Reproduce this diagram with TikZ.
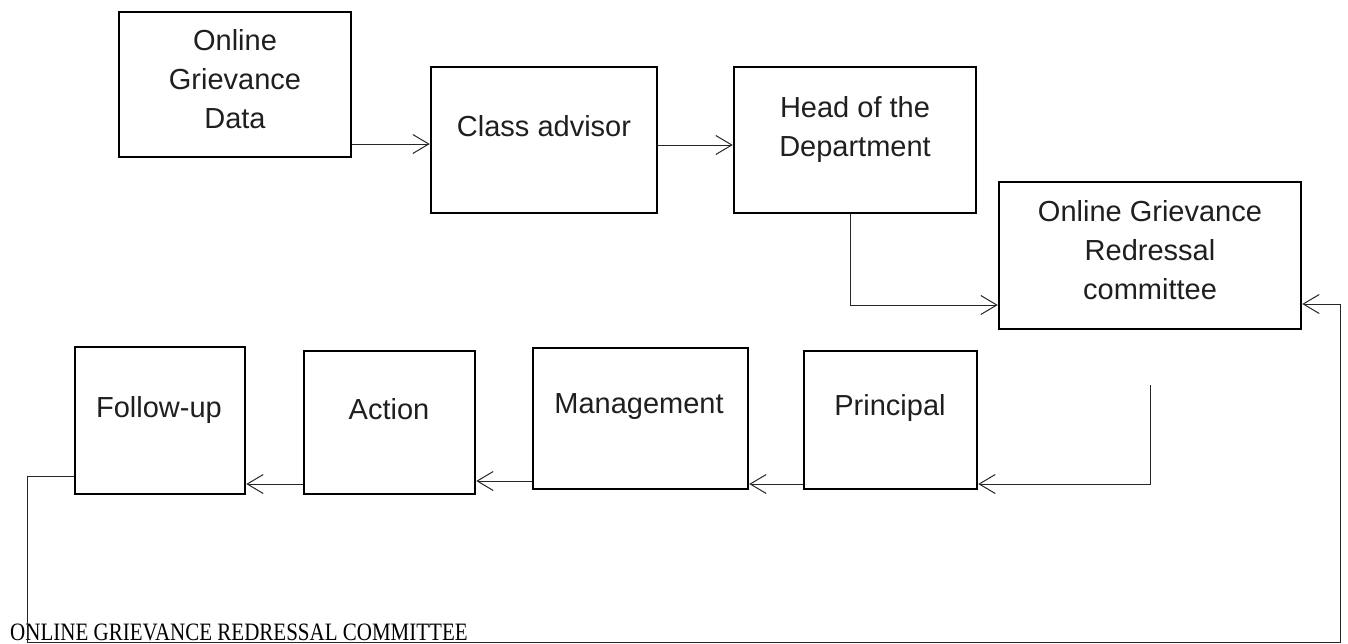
\documentclass[tikz,border=0pt]{standalone}
\usepackage{fontspec}
\setmainfont{Liberation Sans}
\newfontfamily\capfont{Liberation Serif}
\usetikzlibrary{arrows.meta}
\begin{document}
\begin{tikzpicture}[x=1pt,y=-1pt,
  box/.style={draw=black,line width=2.5pt,inner sep=0pt},
  lbl/.style={inner sep=0pt,align=center,font={\fontsize{29}{39}\selectfont},text=black!88},
  arr/.style={draw=black!85,line width=1pt,-{Straight Barb[length=16pt,width=19pt,line width=1pt]}},
  conn/.style={draw=black!85,line width=1pt}]
\useasboundingbox (0,0) rectangle (1348,643);
% boxes
\node[box,minimum width=232pt,minimum height=145pt] (data) at (235,84.5) {};
\node[box,minimum width=226pt,minimum height=146pt] (class) at (544,140) {};
\node[box,minimum width=242pt,minimum height=146pt] (head) at (855,140) {};
\node[box,minimum width=302pt,minimum height=147pt] (comm) at (1150,255.5) {};
\node[box,minimum width=215pt,minimum height=141pt] (mgmt) at (640.5,418.5) {};
\node[box,minimum width=173pt,minimum height=138pt] (princ) at (890.5,420) {};
\node[box,minimum width=171pt,minimum height=143pt] (action) at (389.5,422.5) {};
\node[box,minimum width=170pt,minimum height=147pt] (follow) at (160,420.5) {};
% texts
\node[lbl] (tdata) at (235,79.5) {Online\\Grievance\\Data};
\node[lbl,anchor=base] (tclass) at (544,136) {Class advisor};
\node[lbl] (thead) at (855,129) {Head of the\\Department};
\node[lbl] (tcomm) at (1150,250) {Online Grievance\\Redressal\\committee};
\node[lbl,anchor=base] (tmgmt) at (639,413) {Management};
\node[lbl,anchor=base] (tprinc) at (890,415) {Principal};
\node[lbl,anchor=base] (tfollow) at (159,417) {Follow-up};
\node[lbl,anchor=base] (taction) at (389,419) {Action};
\node[inner sep=0pt,anchor=base west,font={\capfont\fontsize{25}{30}\selectfont}] (cap) at (10,640) {\scalebox{0.84}[1]{ONLINE GRIEVANCE REDRESSAL COMMITTEE}};
% helper coordinates
\coordinate (ya) at (0,144);
\coordinate (yb) at (0,145);
\coordinate (yc) at (0,305);
\coordinate (hx) at (850,0);
\coordinate (s1) at (1150,385);
\coordinate (yd) at (0,484);
\coordinate (ye) at (0,481);
\coordinate (yf) at (0,476);
\coordinate (yg) at (0,304);
\coordinate (c1) at (27,642);
\coordinate (c2) at (1340,642);
% connectors
\draw[arr] (data.east |- ya) -- (class.west |- ya);
\draw[arr] (class.east |- yb) -- (head.west |- yb);
\draw[arr] (head.south -| hx) |- (comm.west |- yc);
\draw[arr] (s1) |- (princ.east |- yd);
\draw[arr] (princ.west |- yd) -- (mgmt.east |- yd);
\draw[arr] (mgmt.west |- ye) -- (action.east |- ye);
\draw[arr] (action.west |- yd) -- (follow.east |- yd);
\draw[arr] (follow.west |- yf) -| (c1) -- (c2) |- (comm.east |- yg);
\end{tikzpicture}
\end{document}
